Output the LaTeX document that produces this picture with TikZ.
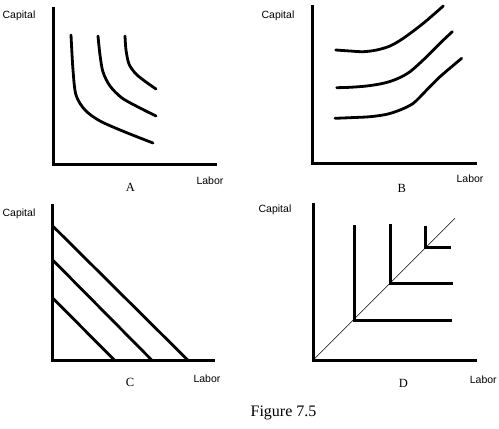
\documentclass[tikz,border=0pt]{standalone}
\usepackage{fontspec}
\setmainfont{Liberation Serif}
\newfontfamily\arialish{Liberation Sans}
\begin{document}
\begin{tikzpicture}[x=1pt,y=-1pt,
  axis/.style={line width=3pt},
  curve/.style={line width=2.8pt,line cap=round},
  thin/.style={line width=0.6pt},
  axlab/.style={font=\arialish\fontsize{10.5}{12}\selectfont,inner sep=0pt},
  panlab/.style={font=\fontsize{12.5}{14}\selectfont,inner sep=0pt},
  figlab/.style={font=\fontsize{16}{18}\selectfont,inner sep=0pt}]
\useasboundingbox[fill=white] (0,0) rectangle (499,429);
% Panel A
\draw[axis] (53.7,7) -- (53.7,164) -- (217,164);
\draw[curve] plot[smooth] coordinates {(71,35) (73,70) (76,95) (85,110) (100,121) (125,132) (153,143)};
\draw[curve] plot[smooth] coordinates {(98,36) (100,55) (103,72) (110,86) (122,98) (140,108) (156,116)};
\draw[curve] plot[smooth] coordinates {(125,36) (126,50) (129,64) (136,74) (146,82) (156,89)};
\node[axlab] (capA) at (19,16) {Capital};
\node[axlab] (labA) at (210,181) {Labor};
\node[panlab] (A) at (130.5,187) {A};
% Panel B
\draw[axis] (312.7,5) -- (312.7,163) -- (476.7,163);
\draw[curve] plot[smooth] coordinates {(335.7,50) (350,51) (363.3,51.7) (376.7,50) (390,46) (403.3,38.3) (423.3,23.3) (443.3,6)};
\draw[curve] plot[smooth] coordinates {(336.7,87.7) (350,87.3) (366.7,86) (383.3,83.3) (396.7,79) (410,71.7) (426.7,56.7) (440,43.3) (452.3,31.7)};
\draw[curve] plot[smooth] coordinates {(335,118.3) (350,117.7) (370,116.7) (386.7,114.3) (400,110) (413.3,103.3) (426.7,90) (440,76.7) (461.7,58.3)};
\node[axlab] (capB) at (278,16) {Capital};
\node[axlab] (labB) at (470,179) {Labor};
\node[panlab] (B) at (401.7,188) {B};
% Panel C
\draw[axis] (52.7,204) -- (52.7,360) -- (215,360);
\draw[curve] (52.7,226) -- (187.7,360);
\draw[curve] (52.7,260) -- (151.7,360);
\draw[curve] (52.7,298) -- (114.3,360);
\node[axlab] (capC) at (19,214) {Capital};
\node[axlab] (labC) at (207,379) {Labor};
\node[panlab] (C) at (130,382) {C};
% Panel D
\draw[axis] (313.3,203) -- (313.3,360) -- (476.7,360);
\draw[thin] (313.3,360) -- (455,218.3);
\draw[axis] (354.3,225) -- (354.3,320.7) -- (451.7,320.7);
\draw[axis] (390,224) -- (390,283.3) -- (453.3,283.3);
\draw[axis] (425.7,225.7) -- (425.7,247.3) -- (450.7,247.3);
\node[axlab] (capD) at (275,210) {Capital};
\node[axlab] (labD) at (483.3,380) {Labor};
\node[panlab] (D) at (403.3,383.3) {D};
\node[figlab] (fig) at (283.5,413) {Figure 7.5};
\end{tikzpicture}
\end{document}
